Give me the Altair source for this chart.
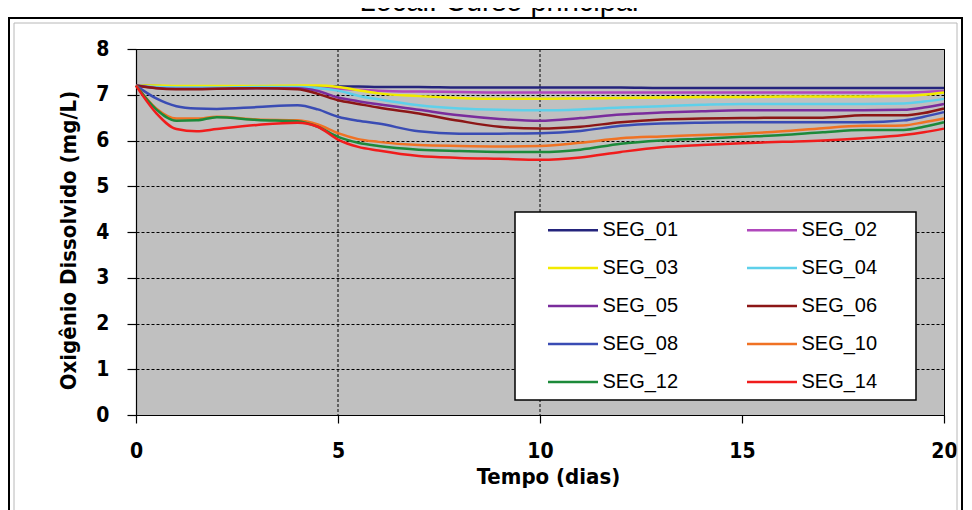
import altair as alt
import pandas as pd

# ---- data ----
tempo = [0, 0.5, 1, 1.5, 2, 3, 4, 4.5, 5, 5.5, 6, 7, 8, 9, 10,
         11, 12, 13, 14, 15, 16, 17, 18, 19, 19.5, 20]

series_names = ["SEG_01", "SEG_02", "SEG_03", "SEG_04", "SEG_05",
                "SEG_06", "SEG_08", "SEG_10", "SEG_12", "SEG_14"]

seg_01 = [7.20, 7.19, 7.18, 7.18, 7.18, 7.18, 7.18, 7.18, 7.18, 7.18, 7.17, 7.17, 7.16, 7.16, 7.16,
          7.16, 7.16, 7.15, 7.15, 7.15, 7.15, 7.15, 7.15, 7.15, 7.15, 7.15]
seg_02 = [7.20, 7.16, 7.15, 7.15, 7.15, 7.16, 7.16, 7.15, 7.13, 7.11, 7.09, 7.07, 7.06, 7.05, 7.05,
          7.05, 7.05, 7.05, 7.05, 7.05, 7.05, 7.05, 7.05, 7.05, 7.06, 7.08]
seg_03 = [7.20, 7.20, 7.19, 7.19, 7.19, 7.19, 7.20, 7.20, 7.17, 7.10, 7.03, 6.97, 6.93, 6.91, 6.91,
          6.92, 6.93, 6.94, 6.95, 6.95, 6.96, 6.96, 6.96, 6.97, 7.00, 7.05]
seg_04 = [7.20, 7.17, 7.16, 7.16, 7.16, 7.17, 7.17, 7.15, 7.09, 6.98, 6.90, 6.77, 6.70, 6.67, 6.66,
          6.68, 6.72, 6.75, 6.78, 6.80, 6.80, 6.80, 6.80, 6.81, 6.85, 6.91]
seg_05 = [7.20, 7.15, 7.13, 7.13, 7.13, 7.14, 7.14, 7.08, 6.94, 6.86, 6.79, 6.67, 6.55, 6.47, 6.43,
          6.49, 6.57, 6.61, 6.64, 6.66, 6.66, 6.66, 6.66, 6.67, 6.72, 6.80]
seg_06 = [7.20, 7.14, 7.12, 7.12, 7.13, 7.14, 7.12, 7.02, 6.88, 6.80, 6.72, 6.59, 6.43, 6.30, 6.26,
          6.30, 6.40, 6.46, 6.48, 6.49, 6.50, 6.50, 6.55, 6.55, 6.60, 6.70]
seg_08 = [7.20, 6.92, 6.75, 6.70, 6.69, 6.73, 6.77, 6.68, 6.52, 6.43, 6.37, 6.20, 6.15, 6.15, 6.16,
          6.21, 6.32, 6.37, 6.39, 6.40, 6.40, 6.40, 6.40, 6.44, 6.52, 6.62]
seg_10 = [7.20, 6.70, 6.48, 6.48, 6.52, 6.46, 6.44, 6.35, 6.16, 6.03, 5.97, 5.90, 5.88, 5.87, 5.88,
          5.95, 6.05, 6.09, 6.12, 6.15, 6.20, 6.27, 6.32, 6.33, 6.40, 6.48]
seg_12 = [7.20, 6.68, 6.43, 6.44, 6.51, 6.45, 6.42, 6.30, 6.08, 5.95, 5.88, 5.80, 5.77, 5.75, 5.75,
          5.80, 5.93, 6.00, 6.04, 6.08, 6.12, 6.18, 6.23, 6.23, 6.30, 6.40]
seg_14 = [7.20, 6.60, 6.25, 6.20, 6.25, 6.34, 6.39, 6.30, 6.02, 5.86, 5.78, 5.66, 5.62, 5.60, 5.58,
          5.63, 5.75, 5.85, 5.90, 5.94, 5.97, 6.00, 6.05, 6.12, 6.18, 6.26]

series_values = [seg_01, seg_02, seg_03, seg_04, seg_05,
                 seg_06, seg_08, seg_10, seg_12, seg_14]

series_colors = ["#24247c", "#b048bc", "#f2ea00", "#5ed0ea", "#7a2c9c",
                 "#8c1616", "#3a4cb4", "#f07224", "#1c8a3a", "#f01c1c"]

x_ticks = [0, 5, 10, 15, 20]
y_ticks = [0, 1, 2, 3, 4, 5, 6, 7, 8]
x_grid_days = [5, 10]

title_text = "Local: Curso principal"
x_title = "Tempo (dias)"
y_title = "Oxigênio Dissolvido (mg/L)"

# ---- table ----
rows = []
for name, vals in zip(series_names, series_values):
    for t, v in zip(tempo, vals):
        rows.append({"t": t, "v": v, "serie": name})
df = pd.DataFrame(rows)

AXFONT = "Liberation Sans Narrow, Arial Narrow, DejaVu Sans Condensed, sans-serif"
LEGFONT = "Liberation Sans, Arial, sans-serif"

one = pd.DataFrame({"k": [0]})

x_enc = alt.X("t:Q", scale=alt.Scale(domain=[0, 20], nice=False),
              axis=alt.Axis(values=x_ticks, grid=False, title=x_title, format="d",
                            tickSize=8, labelPadding=17, labelFlush=False,
                            titleX=412, titleY=61, titleBaseline="middle"))

outer_frame = alt.Chart(one).mark_rect(fill="transparent", stroke="black", strokeWidth=2).encode(
    x=alt.value(-127), x2=alt.value(826), y=alt.value(-31), y2=alt.value(480)
)
inner_frame = alt.Chart(one).mark_rect(fill="transparent", stroke="#b8b8b8", strokeWidth=1).encode(
    x=alt.value(-122), x2=alt.value(821), y=alt.value(-26), y2=alt.value(470)
)

title = alt.Chart(one).mark_text(
    font=LEGFONT, fontSize=29, color="black", align="center", baseline="alphabetic"
).encode(x=alt.value(363), y=alt.value(-38), text=alt.value(title_text))

grid_x = alt.Chart(pd.DataFrame({"t": x_grid_days})).mark_rule(
    color="black", strokeDash=[3, 2], strokeWidth=1
).encode(x=x_enc)

lines = alt.Chart(df).mark_line(interpolate="monotone", strokeWidth=2.5).encode(
    x=x_enc,
    y=alt.Y("v:Q", scale=alt.Scale(domain=[0, 8], nice=False),
            axis=alt.Axis(values=y_ticks, grid=True, title=y_title, format="d",
                          tickSize=9, labelPadding=18, labelFlush=False,
                          gridDash=[3, 2], gridColor="black", gridWidth=1,
                          titleX=-68, titleY=191, titleBaseline="middle")),
    color=alt.Color("serie:N",
                    scale=alt.Scale(domain=series_names, range=series_colors),
                    legend=alt.Legend(orient="none", legendX=412, legendY=169.5,
                                      direction="horizontal",
                                      columns=2, columnPadding=63, rowPadding=16,
                                      gridAlign="all", padding=0, title=None,
                                      symbolType="M-2.5,0H2.5", symbolSize=400,
                                      symbolStrokeWidth=2.5, symbolOffset=13.5,
                                      labelOffset=18, labelFont=LEGFONT,
                                      labelFontSize=20, labelColor="black",
                                      labelLimit=200)),
)

legend_box = alt.Chart(one).mark_rect(fill="white", stroke="black", strokeWidth=1.5).encode(
    x=alt.value(379), x2=alt.value(780), y=alt.value(163), y2=alt.value(351)
)

chart = alt.layer(outer_frame, inner_frame, title, grid_x, lines, legend_box).properties(
    width=808, height=366,
    autosize=alt.AutoSizeParams(type="none"),
    padding={"left": 128, "top": 41, "right": 20, "bottom": 95},
    background="white",
).configure_view(
    fill="#c0c0c0", stroke="black", strokeWidth=1
).configure_axis(
    domainColor="black", tickColor="black", domainWidth=1.2, tickWidth=1.2,
    labelFont=AXFONT, labelFontSize=21, labelFontWeight="bold", labelColor="black",
    titleFont=AXFONT, titleFontSize=22, titleFontWeight="bold", titleColor="black",
)

chart.save("out.html", embed_options={"renderer": "svg", "actions": False})
